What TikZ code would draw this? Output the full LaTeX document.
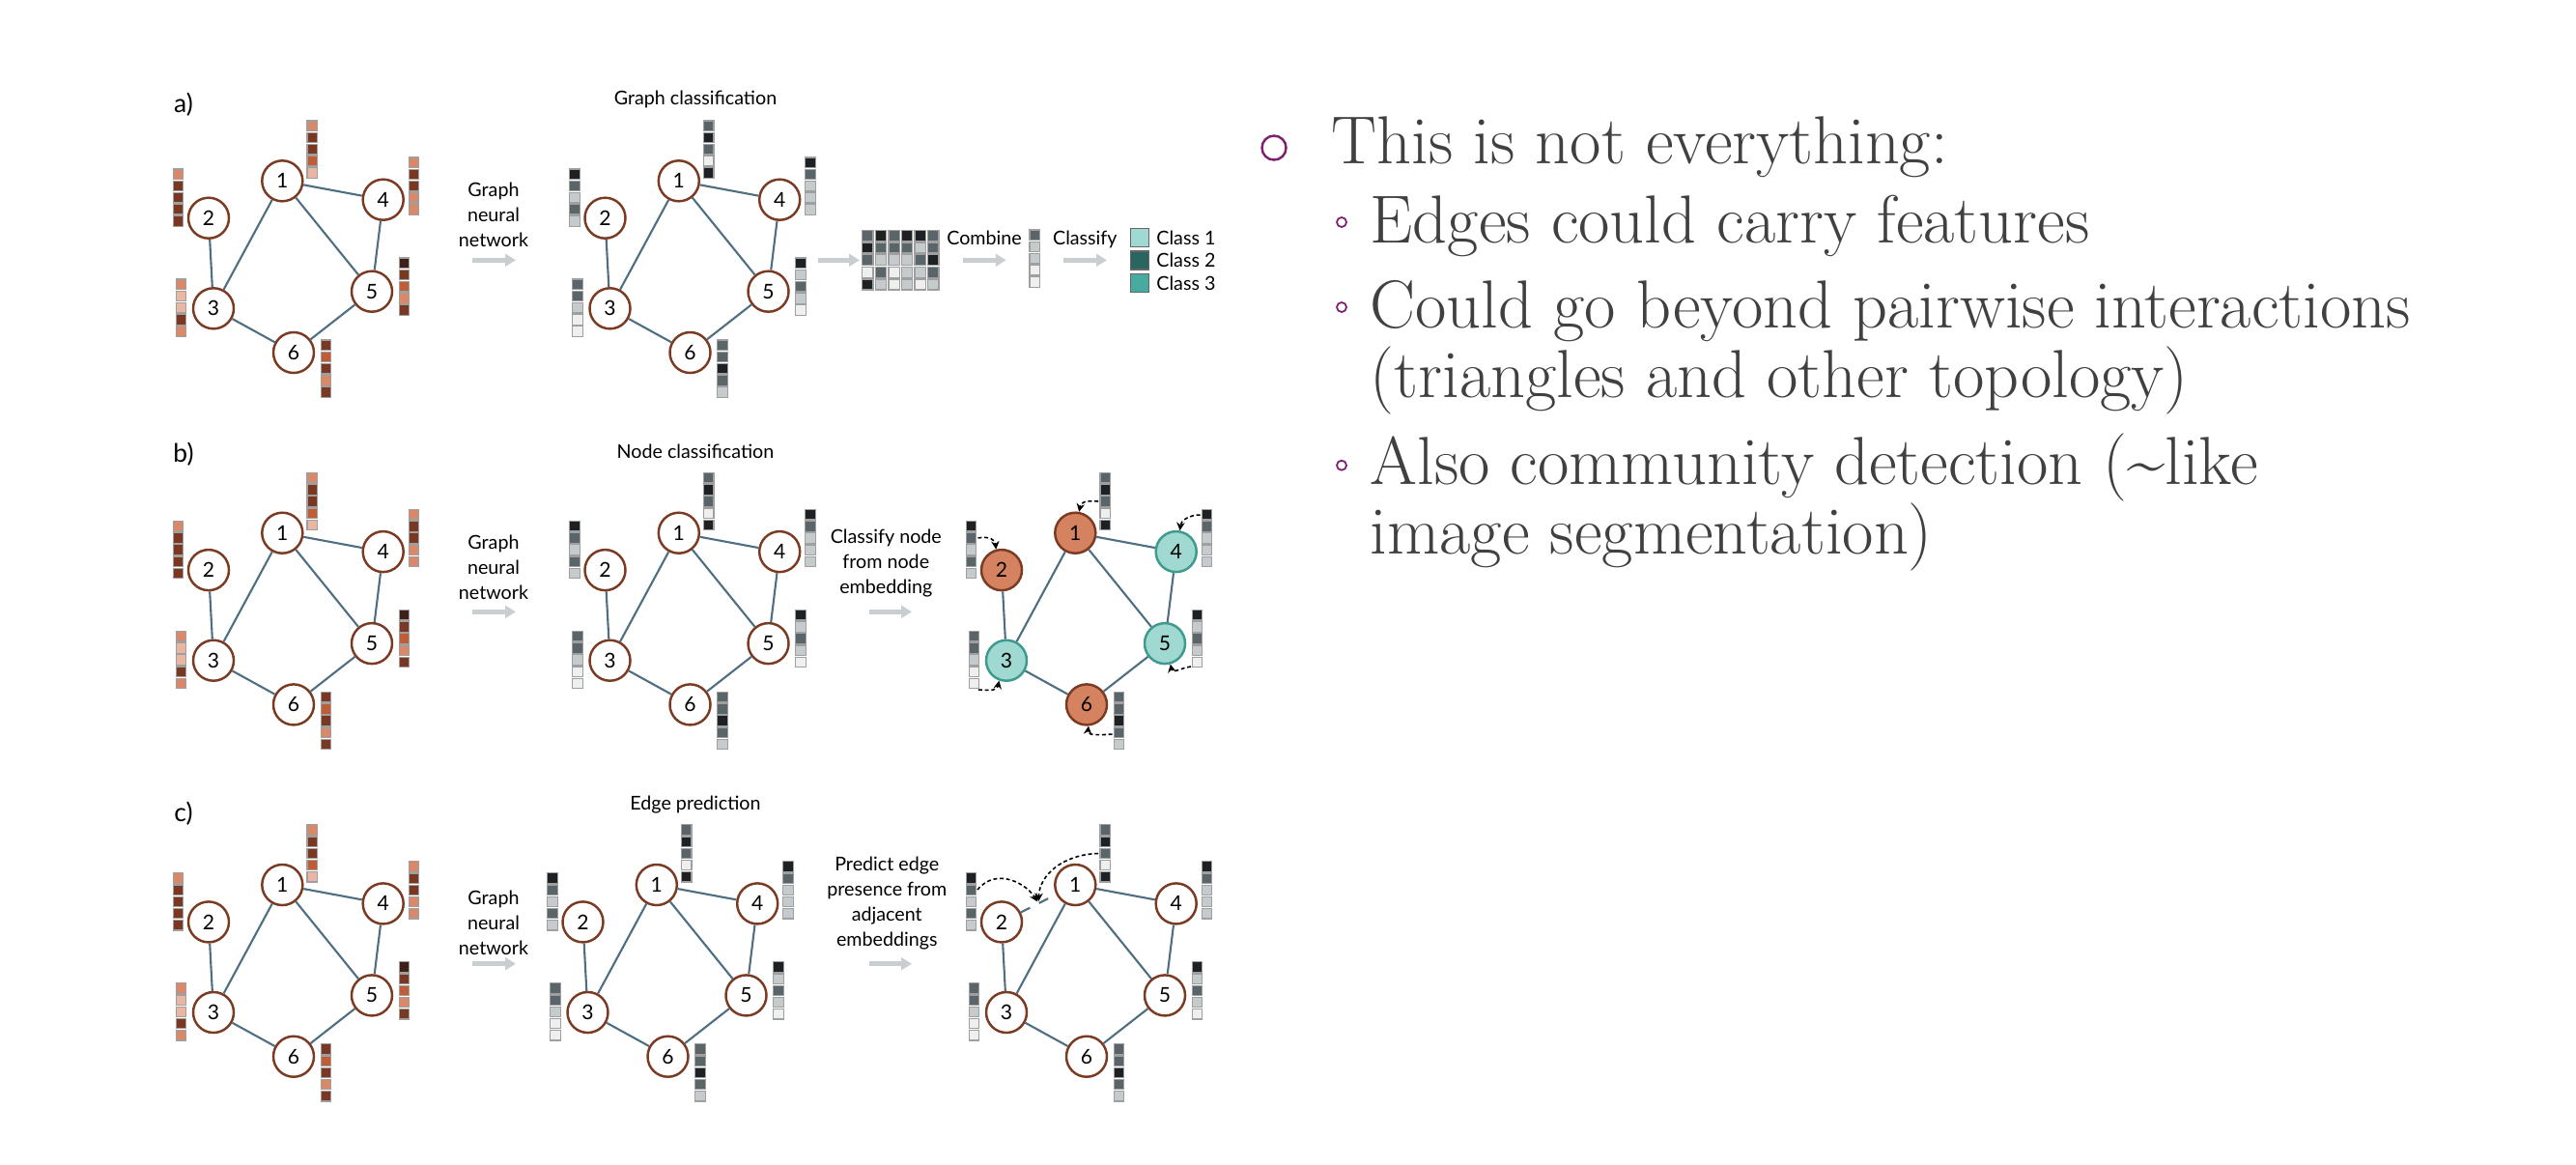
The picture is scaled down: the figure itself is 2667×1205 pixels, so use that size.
\documentclass[tikz,border=0pt]{standalone}
\usepackage{fontspec}
\newfontfamily\figfont{Lato}
\usetikzlibrary{arrows.meta}

\definecolor{or1}{HTML}{E8B6A2}
\definecolor{or2}{HTML}{D9896A}
\definecolor{or3}{HTML}{BF5D36}
\definecolor{or4}{HTML}{7A3822}
\definecolor{or5}{HTML}{3F2018}
\definecolor{gr1}{HTML}{EEF0F0}
\definecolor{gr2}{HTML}{C5CBCD}
\definecolor{gr3}{HTML}{596568}
\definecolor{gr4}{HTML}{1D2123}
\definecolor{ringbrown}{HTML}{7B3A22}
\definecolor{edgeblue}{HTML}{4E6E82}
\definecolor{nodeorange}{HTML}{D4825F}
\definecolor{nodeteal}{HTML}{9FD9D1}
\definecolor{tealring}{HTML}{3E9A8C}
\definecolor{classA}{HTML}{9FD9D1}
\definecolor{classB}{HTML}{2A6660}
\definecolor{classC}{HTML}{47AB9F}
\definecolor{arrowgray}{HTML}{C9CED0}
\definecolor{slidegray}{HTML}{404040}
\definecolor{bulletpurple}{HTML}{7E2070}

\tikzset{
  gnode/.style={circle, draw=ringbrown, line width=0.7pt, fill=white, minimum size=0.42cm,
    inner sep=0pt, font=\figfont\fontsize{6}{7}\selectfont},
  plainnode/.style={},
  orangenode/.style={fill=nodeorange, draw=ringbrown},
  tealnode/.style={fill=nodeteal, draw=tealring},
  gedge/.style={draw=edgeblue, line width=0.6pt},
  cell/.style={draw=gray!75, line width=0.35pt},
  flow/.style={arrowgray, line width=1.5pt, -{Triangle[width=3.6pt,length=3.1pt]}},
  embarrow/.style={black, line width=0.45pt, dash pattern=on 1.1pt off 0.8pt,
    -{Stealth[length=2.4pt,width=2.4pt]}},
  figtext/.style={font=\figfont\fontsize{5.6}{7.4}\selectfont, align=center, inner sep=0pt},
  panellabel/.style={font=\figfont\fontsize{7.5}{9}\selectfont, inner sep=0pt},
  legendbox/.style={draw=gray!80!black, line width=0.35pt, minimum size=0.19cm, inner sep=0pt},
  slidetext/.style={font=\fontsize{20}{24}\selectfont\addfontfeatures{FakeStretch=1.06},
    text=slidegray, inner sep=0pt, anchor=base west},
  bigbullet/.style={circle, draw=bulletpurple, line width=0.7pt, minimum size=0.25cm, inner sep=0pt},
  smallbullet/.style={circle, draw=bulletpurple, line width=0.5pt, minimum size=0.1cm, inner sep=0pt}
}

\newcommand{\featvec}[3]{%
  \foreach \c [count=\i] in {#3}
    \draw[cell, fill=\c] (#1-5.25, #2+12.2*\i-12.2) rectangle ++(10.5,10.5);
}
\newcommand{\orangevecs}[2]{%
  \begin{scope}[shift={(#1,#2)}]
    \featvec{323.3}{125}{or2,or4,or4,or3,or1}
    \featvec{184.5}{175}{or2,or4,or4,or4,or4}
    \featvec{187.5}{289}{or2,or1,or1,or4,or2}
    \featvec{428.5}{163}{or2,or4,or4,or2,or2}
    \featvec{418.5}{267}{or5,or4,or3,or2,or4}
    \featvec{337.5}{352}{or4,or3,or4,or2,or4}
  \end{scope}}
\newcommand{\grayvecs}[2]{%
  \begin{scope}[shift={(#1,#2)}]
    \featvec{323.3}{125}{gr3,gr4,gr3,gr1,gr4}
    \featvec{184.5}{175}{gr4,gr3,gr2,gr3,gr2}
    \featvec{187.5}{289}{gr3,gr3,gr2,gr1,gr1}
    \featvec{428.5}{163}{gr4,gr3,gr2,gr2,gr2}
    \featvec{418.5}{267}{gr4,gr2,gr3,gr2,gr1}
    \featvec{337.5}{352}{gr3,gr3,gr4,gr3,gr2}
  \end{scope}}
\newcommand{\gnet}[9]{%
  \begin{scope}[shift={(#2,#3)}]
    \foreach \n/\x/\y/\s in {1/292.3/187.3/#4, 2/216/225.7/#5, 3/221/319.3/#6,
        4/396.7/206.7/#7, 5/385/301.7/#8, 6/304/365/#9}
      \node[gnode,\s] (#1-\n) at (\x,\y) {\n};
    \foreach \a/\b in {1/4,1/3,1/5,2/3,3/6,4/5,5/6}
      \draw[gedge] (#1-\a) -- (#1-\b);
  \end{scope}}

\begin{document}
\begin{tikzpicture}[x=0.01cm, y=-0.01cm]
\useasboundingbox (0,0) rectangle (2667,1205);

% a) graph classification
\node[panellabel] (lab-a) at (190,108) {a)};
\orangevecs{0}{0}
\gnet{al}{0}{0}{plainnode}{plainnode}{plainnode}{plainnode}{plainnode}{plainnode}
\node[figtext] (gnn-a) at (511,222.5) {Graph\\neural\\network};
\node[figtext] (title-a) at (720,103) {Graph classification};
\grayvecs{410.5}{0}
\gnet{am}{410.5}{0}{plainnode}{plainnode}{plainnode}{plainnode}{plainnode}{plainnode}
\begin{scope}[shift={(892.7,238.3)}]
  \foreach \col [count=\j] in {{gr3,gr4,gr3,gr1,gr4},{gr4,gr3,gr2,gr3,gr2},{gr3,gr3,gr2,gr1,gr1},
      {gr4,gr3,gr2,gr2,gr2},{gr4,gr2,gr3,gr2,gr1},{gr3,gr3,gr4,gr3,gr2}}
    \foreach \c [count=\i] in \col
      \draw[cell, fill=\c] (13.6*\j-13.6, 12.7*\i-12.7) rectangle ++(11.3,11);
\end{scope}
\node[figtext] (comb-t) at (1019,246.7) {Combine};
\featvec{1071.3}{238}{gr3,gr2,gr2,gr1,gr1}
\node[figtext] (cls-t) at (1123.3,247.7) {Classify};
\foreach \k/\col/\yy in {1/classA/246, 2/classB/269.5, 3/classC/293} {
  \node[legendbox, fill=\col] (key-\k) at (1180,\yy) {};
  \node[figtext, anchor=west] (keytext-\k) at (1196.7,\yy) {Class \k};
}

% b) node classification
\node[panellabel] (lab-b) at (190,470) {b)};
\orangevecs{0}{364.4}
\gnet{bl}{0}{364.4}{plainnode}{plainnode}{plainnode}{plainnode}{plainnode}{plainnode}
\node[figtext] (gnn-b) at (511,587) {Graph\\neural\\network};
\node[figtext] (title-b) at (720,467.3) {Node classification};
\grayvecs{410.5}{364.4}
\gnet{bm}{410.5}{364.4}{plainnode}{plainnode}{plainnode}{plainnode}{plainnode}{plainnode}
\node[figtext] (nc-t) at (917.3,582.7) {Classify node\\from node\\embedding};
\grayvecs{821}{364.4}
\gnet{br}{821}{364.4}{orangenode}{orangenode}{tealnode}{tealnode}{tealnode}{orangenode}
\coordinate (bv1) at (1137,519);
\coordinate (bv2) at (1012.5,556.9);
\coordinate (bv3) at (1013,714);
\coordinate (bv4) at (1242.5,533);
\coordinate (bv5) at (1233,690);
\coordinate (bv6) at (1151.5,760);
\draw[embarrow] (bv1) .. controls +(-14,-1) and +(2,-10) .. (br-1.80);
\draw[embarrow] (bv2) .. controls +(12,-2) and +(-1,-10) .. (br-2.105);
\draw[embarrow] (bv3) .. controls +(14,1) and +(-2,10) .. (br-3.250);
\draw[embarrow] (bv4) .. controls +(-12,0) and +(1,-10) .. (br-4.80);
\draw[embarrow] (bv5) .. controls +(-12,2) and +(2,10) .. (br-5.285);
\draw[embarrow] (bv6) .. controls +(-14,1) and +(-1,10) .. (br-6.275);

% c) edge prediction
\node[panellabel] (lab-c) at (190,841.7) {c)};
\orangevecs{0}{728.7}
\gnet{cl}{0}{728.7}{plainnode}{plainnode}{plainnode}{plainnode}{plainnode}{plainnode}
\node[figtext] (gnn-c) at (511,955) {Graph\\neural\\network};
\node[figtext] (title-c) at (720,833.3) {Edge prediction};
\grayvecs{387.5}{728.7}
\gnet{cm}{387.5}{728.7}{plainnode}{plainnode}{plainnode}{plainnode}{plainnode}{plainnode}
\node[figtext] (ep-t) at (918.3,935.3) {Predict edge\\presence from\\adjacent\\embeddings};
\grayvecs{821}{728.7}
\gnet{cr}{821}{728.7}{plainnode}{plainnode}{plainnode}{plainnode}{plainnode}{plainnode}
\draw[gedge, dashed] (cr-2) -- (cr-1) coordinate[pos=0.5] (cr-mid);
\coordinate (cv2) at (1012,921);
\coordinate (cv1) at (1137,883.5);
\draw[embarrow, shorten >=0.6pt] (cv2) .. controls +(20,-24) and +(-12,-20) .. (cr-mid);
\draw[embarrow, shorten >=0.6pt] (cv1) .. controls +(-36,1) and +(1,-30) .. (cr-mid);

% grey arrows
\foreach \nm/\xa/\xb/\yy in {ga/489/534/269.3, gb/489/534/633.3, gc/489/534/997.7,
    mat/846.7/890/269.3, comb/996.7/1041.7/269.3, cls/1101/1146/269.3,
    nc/900/944/633.3, ep/900/944/997.7} {
  \coordinate (\nm-s) at (\xa,\yy);
  \coordinate (\nm-e) at (\xb,\yy);
  \draw[flow] (\nm-s) -- (\nm-e);
}

% slide text
\node[bigbullet] (bul-1) at (1319,153) {};
\node[slidetext] (pt-1) at (1378,169) {This is not everything:};
\node[smallbullet] (bul-2) at (1389,230) {};
\node[slidetext] (pt-2) at (1418,251.7) {Edges could carry features};
\node[smallbullet] (bul-3) at (1389,318) {};
\node[slidetext] (pt-3) at (1418,339.3) {Could go beyond pairwise interactions};
\node[slidetext] (pt-3b) at (1418,411.7) {(triangles and other topology)};
\node[smallbullet] (bul-4) at (1389,481.7) {};
\node[slidetext] (pt-4) at (1418,501.7) {Also community detection (\textasciitilde like};
\node[slidetext] (pt-4b) at (1418,573.3) {image segmentation)};
\end{tikzpicture}
\end{document}
